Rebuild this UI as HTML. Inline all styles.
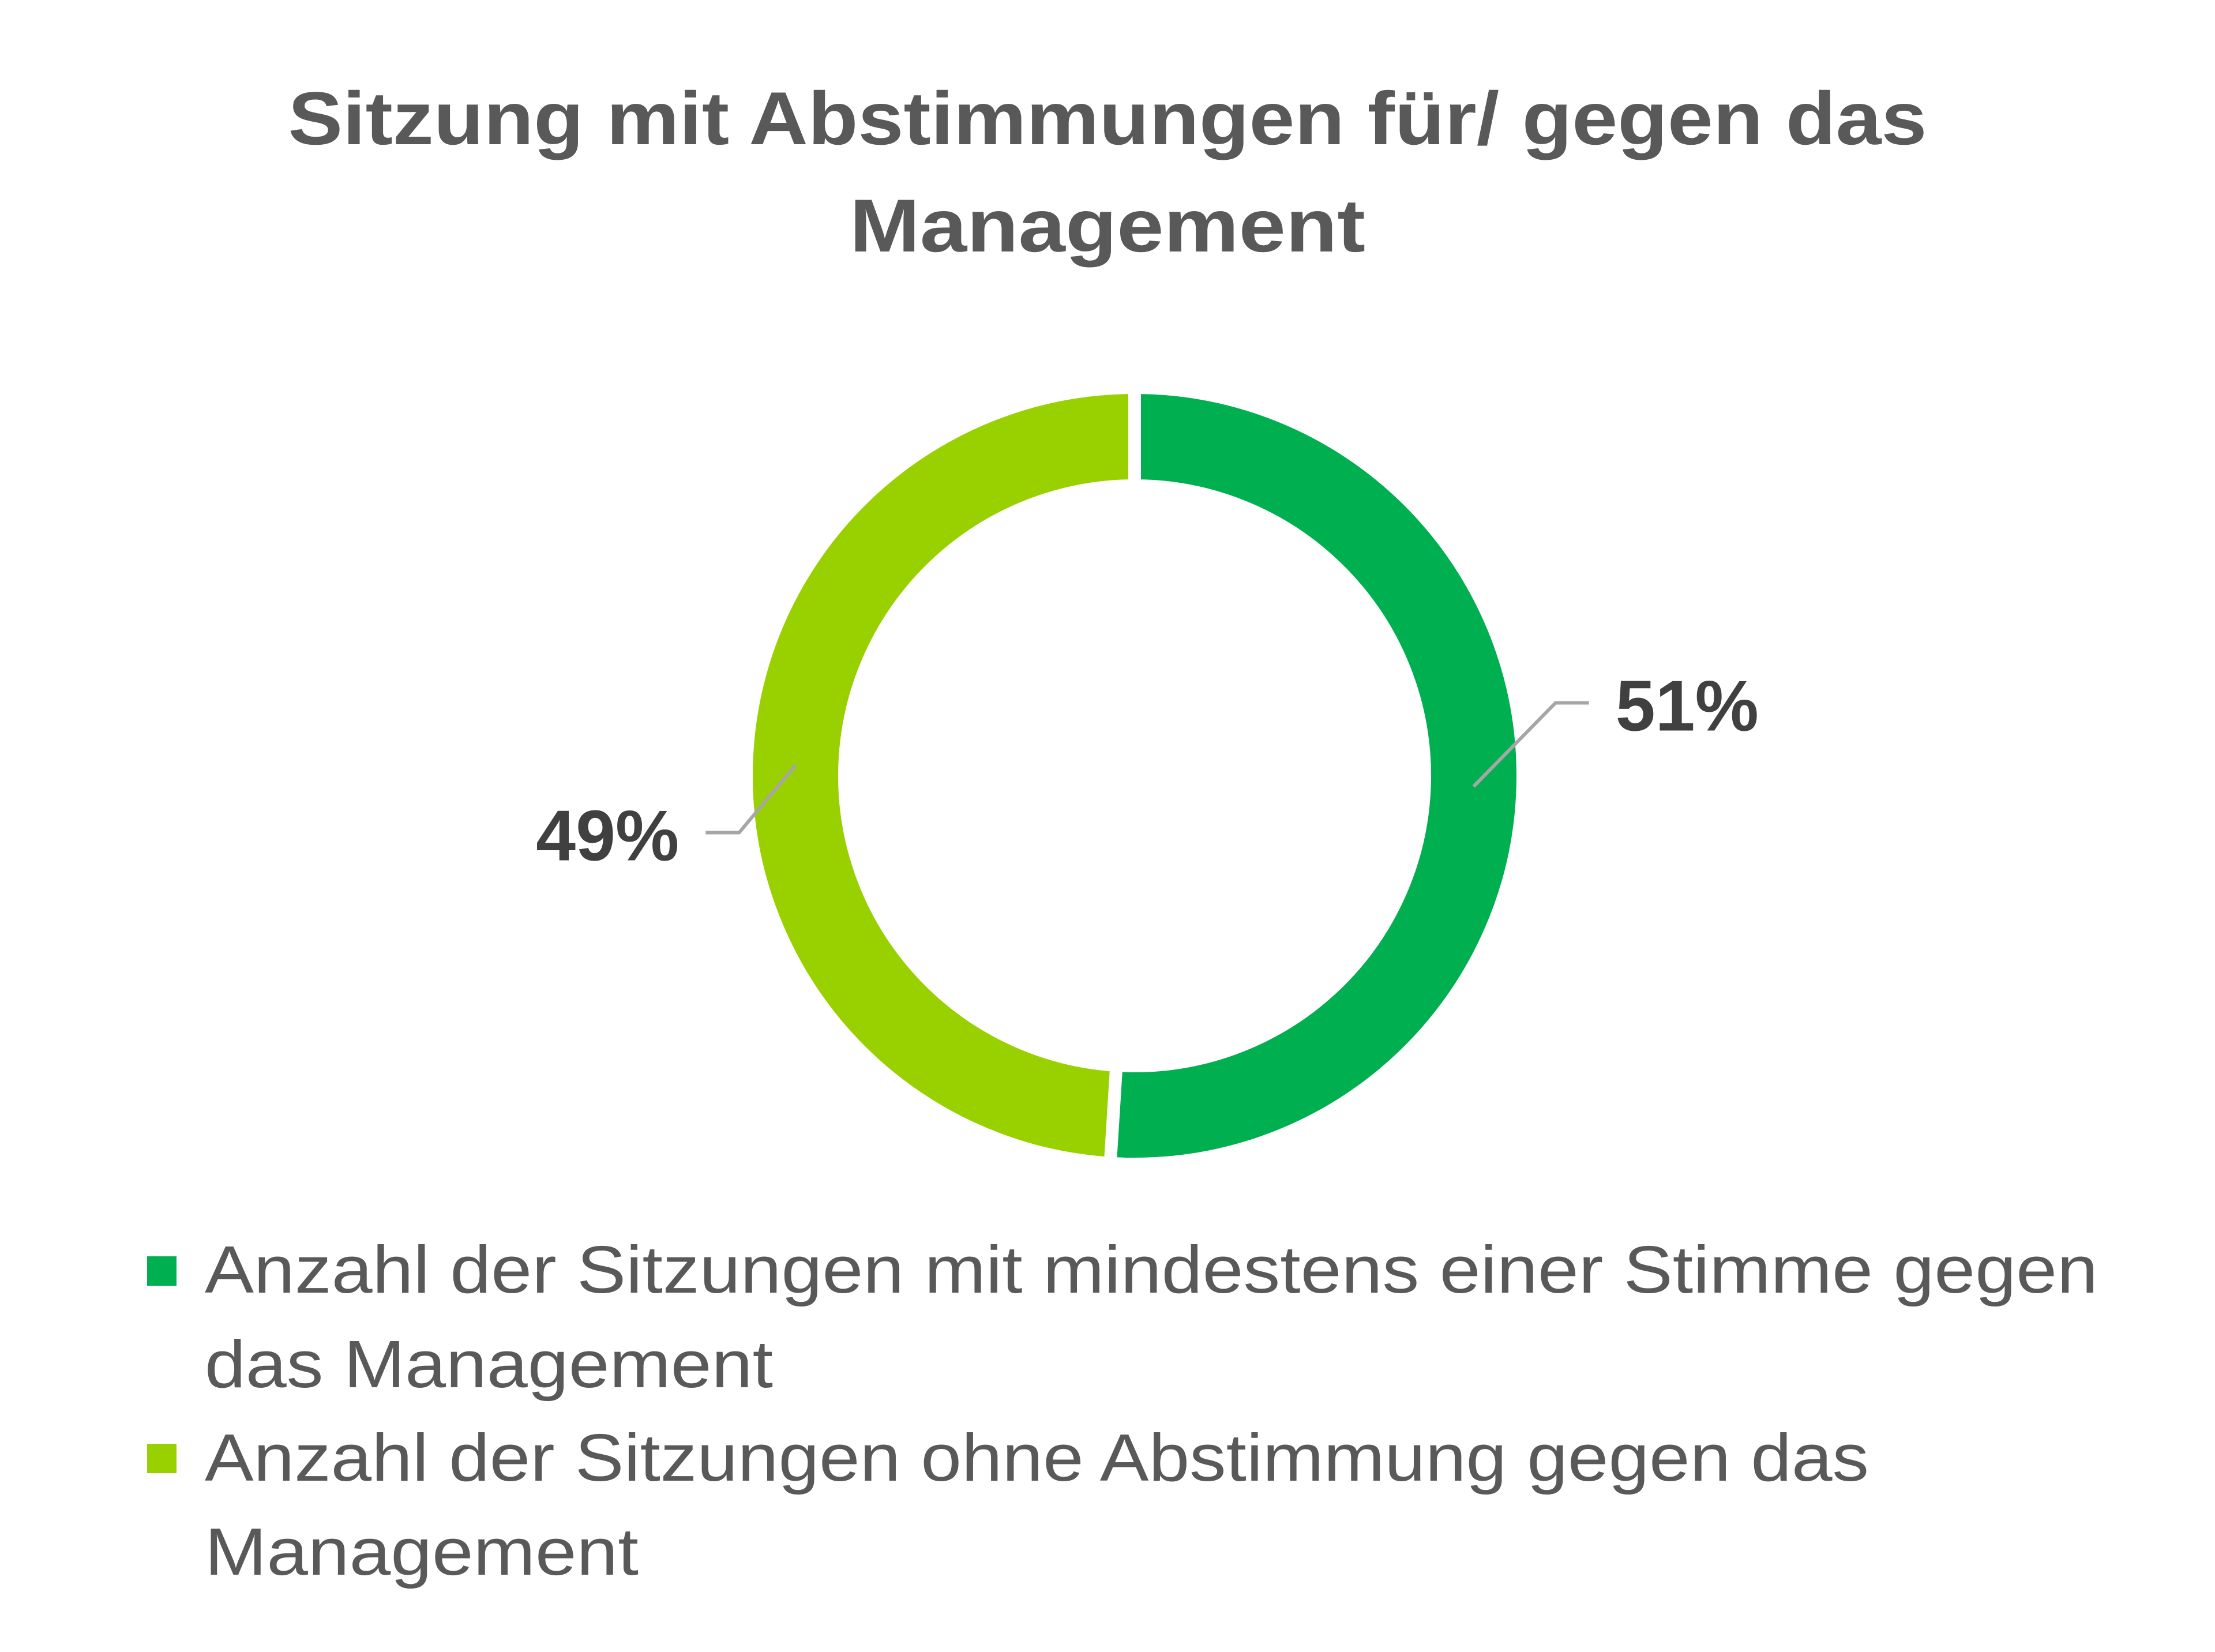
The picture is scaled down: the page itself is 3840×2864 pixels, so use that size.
<!DOCTYPE html>
<html><head><meta charset="utf-8"><style>
html,body{margin:0;padding:0;background:#fff;}
svg{display:block;}
</style></head><body>
<svg width="3840" height="2864" viewBox="0 0 3840 2864" xmlns="http://www.w3.org/2000/svg">
<g font-family="'Liberation Sans', sans-serif" font-weight="bold" fill="#595959" font-size="130" text-anchor="middle">
<text x="1920" y="250" textLength="2841" lengthAdjust="spacingAndGlyphs">Sitzung mit Abstimmungen für/ gegen das</text>
<text x="1920" y="436" textLength="894" lengthAdjust="spacingAndGlyphs">Management</text>
</g>
<g id="slices"></g>
<g id="labels"></g>
<g font-family="'Liberation Sans', sans-serif" fill="#595959" font-size="116">
<g>
<rect x="255" y="2178" width="51" height="51" fill="#00b050"/>
<text x="355" y="2241" textLength="3282" lengthAdjust="spacingAndGlyphs">Anzahl der Sitzungen mit mindestens einer Stimme gegen</text>
<text x="355" y="2405" textLength="985" lengthAdjust="spacingAndGlyphs">das Management</text>
</g>
<g>
<rect x="255" y="2503" width="51" height="51" fill="#99d100"/>
<text x="355" y="2567" textLength="2885" lengthAdjust="spacingAndGlyphs">Anzahl der Sitzungen ohne Abstimmung gegen das</text>
<text x="355" y="2730" textLength="752" lengthAdjust="spacingAndGlyphs">Management</text>
</g>
</g>
</svg>
<script>
const categories = ["Sitzungen mit Gegenstimme", "Sitzungen ohne Gegenstimme"];
const values = [51, 49];
const labels = ["51%", "49%"];
const colors = ["#00b050", "#99d100"];

const NS = "http://www.w3.org/2000/svg";
const cx = 1967, cy = 1345, R = 673, r = 503;
const total = values.reduce((a, b) => a + b, 0);
function pt(rad, a) { return [cx + rad * Math.sin(a), cy - rad * Math.cos(a)]; }
const gS = document.getElementById('slices');
const gL = document.getElementById('labels');
let acc = 0;
values.forEach((v, i) => {
  const a0 = acc / total * 2 * Math.PI;
  acc += v;
  const a1 = acc / total * 2 * Math.PI;
  const large = (a1 - a0) > Math.PI ? 1 : 0;
  const p0 = pt(R, a0), p1 = pt(R, a1), p2 = pt(r, a1), p3 = pt(r, a0);
  const path = document.createElementNS(NS, 'path');
  path.setAttribute('d', `M${p0[0]},${p0[1]} A${R},${R} 0 ${large} 1 ${p1[0]},${p1[1]} L${p2[0]},${p2[1]} A${r},${r} 0 ${large} 0 ${p3[0]},${p3[1]} Z`);
  path.setAttribute('fill', colors[i]);
  path.setAttribute('stroke', '#fff');
  path.setAttribute('stroke-width', '22');
  path.setAttribute('stroke-linejoin', 'miter');
  
  
  gS.appendChild(path);

  const am = (a0 + a1) / 2;
  const s = pt((R + r) / 2, am);
  const right = Math.sin(am) >= 0;
  const dir = right ? 1 : -1;
  const up = right ? -145 : 117;
  const mid = [s[0] + dir * 142 * (right ? 1 : 0.69), s[1] + up];
  const end = [mid[0] + dir * 58, mid[1]];
  const line = document.createElementNS(NS, 'polyline');
  line.setAttribute('points', `${s[0]},${s[1]} ${mid[0]},${mid[1]} ${end[0]},${end[1]}`);
  line.setAttribute('fill', 'none');
  line.setAttribute('stroke', '#a6a6a6');
  line.setAttribute('stroke-width', '6');
  
  
  gL.appendChild(line);

  const t = document.createElementNS(NS, 'text');
  t.textContent = labels[i];
  t.setAttribute('x', end[0] + dir * 46);
  t.setAttribute('y', end[1] + 48);
  t.setAttribute('text-anchor', right ? 'start' : 'end');
  t.setAttribute('font-family', "'Liberation Sans', sans-serif");
  t.setAttribute('font-weight', 'bold');
  t.setAttribute('font-size', '124');
  t.setAttribute('fill', '#404040');
  
  
  gL.appendChild(t);
});
</script>
</body></html>
